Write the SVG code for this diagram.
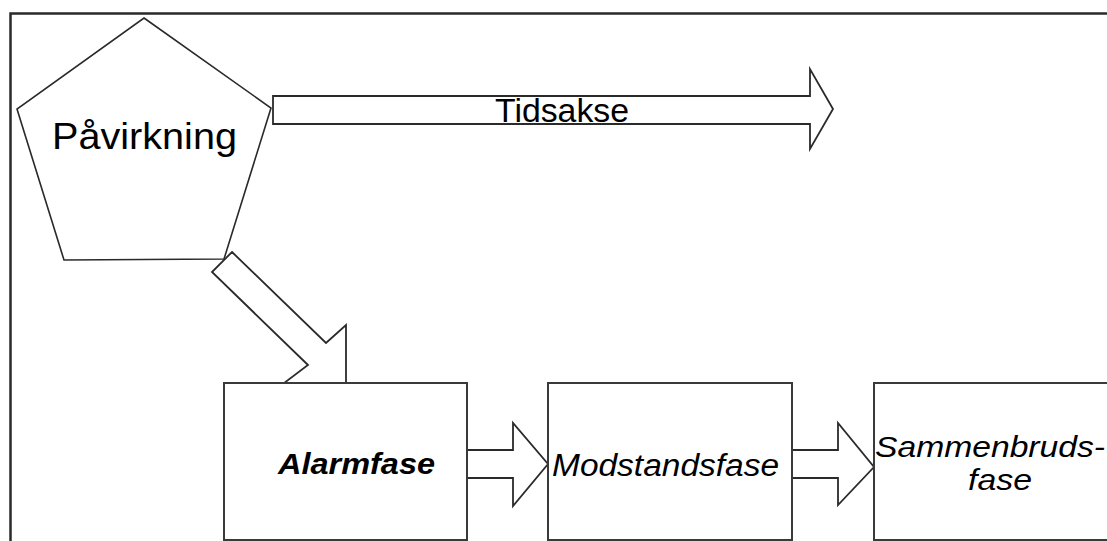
<svg xmlns="http://www.w3.org/2000/svg" width="1107" height="541" viewBox="0 0 1107 541">
  <style>
    .frame { fill: none; stroke: #2a2a2a; stroke-width: 2.5; }
    .shape { fill: #ffffff; stroke: #2a2a2a; stroke-width: 1.6; stroke-linejoin: miter; }
    .box { fill: #ffffff; stroke: #3a3a3a; stroke-width: 2; }
    .arrow { fill: #ffffff; stroke: #2a2a2a; stroke-width: 1.8; stroke-linejoin: miter; }
    .lbl { font-family: "Liberation Sans", Arial, sans-serif; fill: #000000; }
    .it { font-style: italic; }
  </style>
  <rect width="1107" height="541" fill="#ffffff"/>
  <path class="frame" d="M10.5,541 V13.5 H1107"/>

  <g id="connectors">
    <polygon id="arrow-diag" class="arrow" points="232,252 326,343 346,325 346,440 255,405 308,365 212,272"/>
    <g id="arrow-tidsakse">
      <polygon class="arrow" points="273,96 810,96 810,69 833,109 810,149 810,124 273,124"/>
      <text class="lbl" x="495" y="122" font-size="34" textLength="134" lengthAdjust="spacingAndGlyphs">Tidsakse</text>
    </g>
    <polygon id="arrow-1" class="arrow" points="467,450 513,450 513,423 548,464 513,506 513,478 467,478"/>
    <polygon id="arrow-2" class="arrow" points="792,450 838,450 838,423 874,467 838,505 838,478 792,478"/>
  </g>

  <g id="node-pavirkning">
    <polygon class="shape" points="144,18 271,108 224,259 64,260 17,109"/>
    <text class="lbl" x="52" y="149" font-size="36" textLength="185" lengthAdjust="spacingAndGlyphs">Påvirkning</text>
  </g>

  <g id="node-alarmfase">
    <rect class="box" x="224" y="383" width="243" height="157"/>
    <text class="lbl it" x="278" y="474" font-size="30" font-weight="bold" textLength="157" lengthAdjust="spacingAndGlyphs">Alarmfase</text>
  </g>

  <g id="node-modstandsfase">
    <rect class="box" x="548" y="383" width="244" height="157"/>
    <text class="lbl it" x="552" y="476" font-size="31" textLength="227" lengthAdjust="spacingAndGlyphs">Modstandsfase</text>
  </g>

  <g id="node-sammenbrudsfase">
    <rect class="box" x="874" y="383" width="240" height="157"/>
    <text class="lbl it" font-size="29">
      <tspan x="875" y="457" textLength="230" lengthAdjust="spacingAndGlyphs">Sammenbruds-</tspan>
      <tspan x="968" y="490" textLength="64" lengthAdjust="spacingAndGlyphs">fase</tspan>
    </text>
  </g>
</svg>
